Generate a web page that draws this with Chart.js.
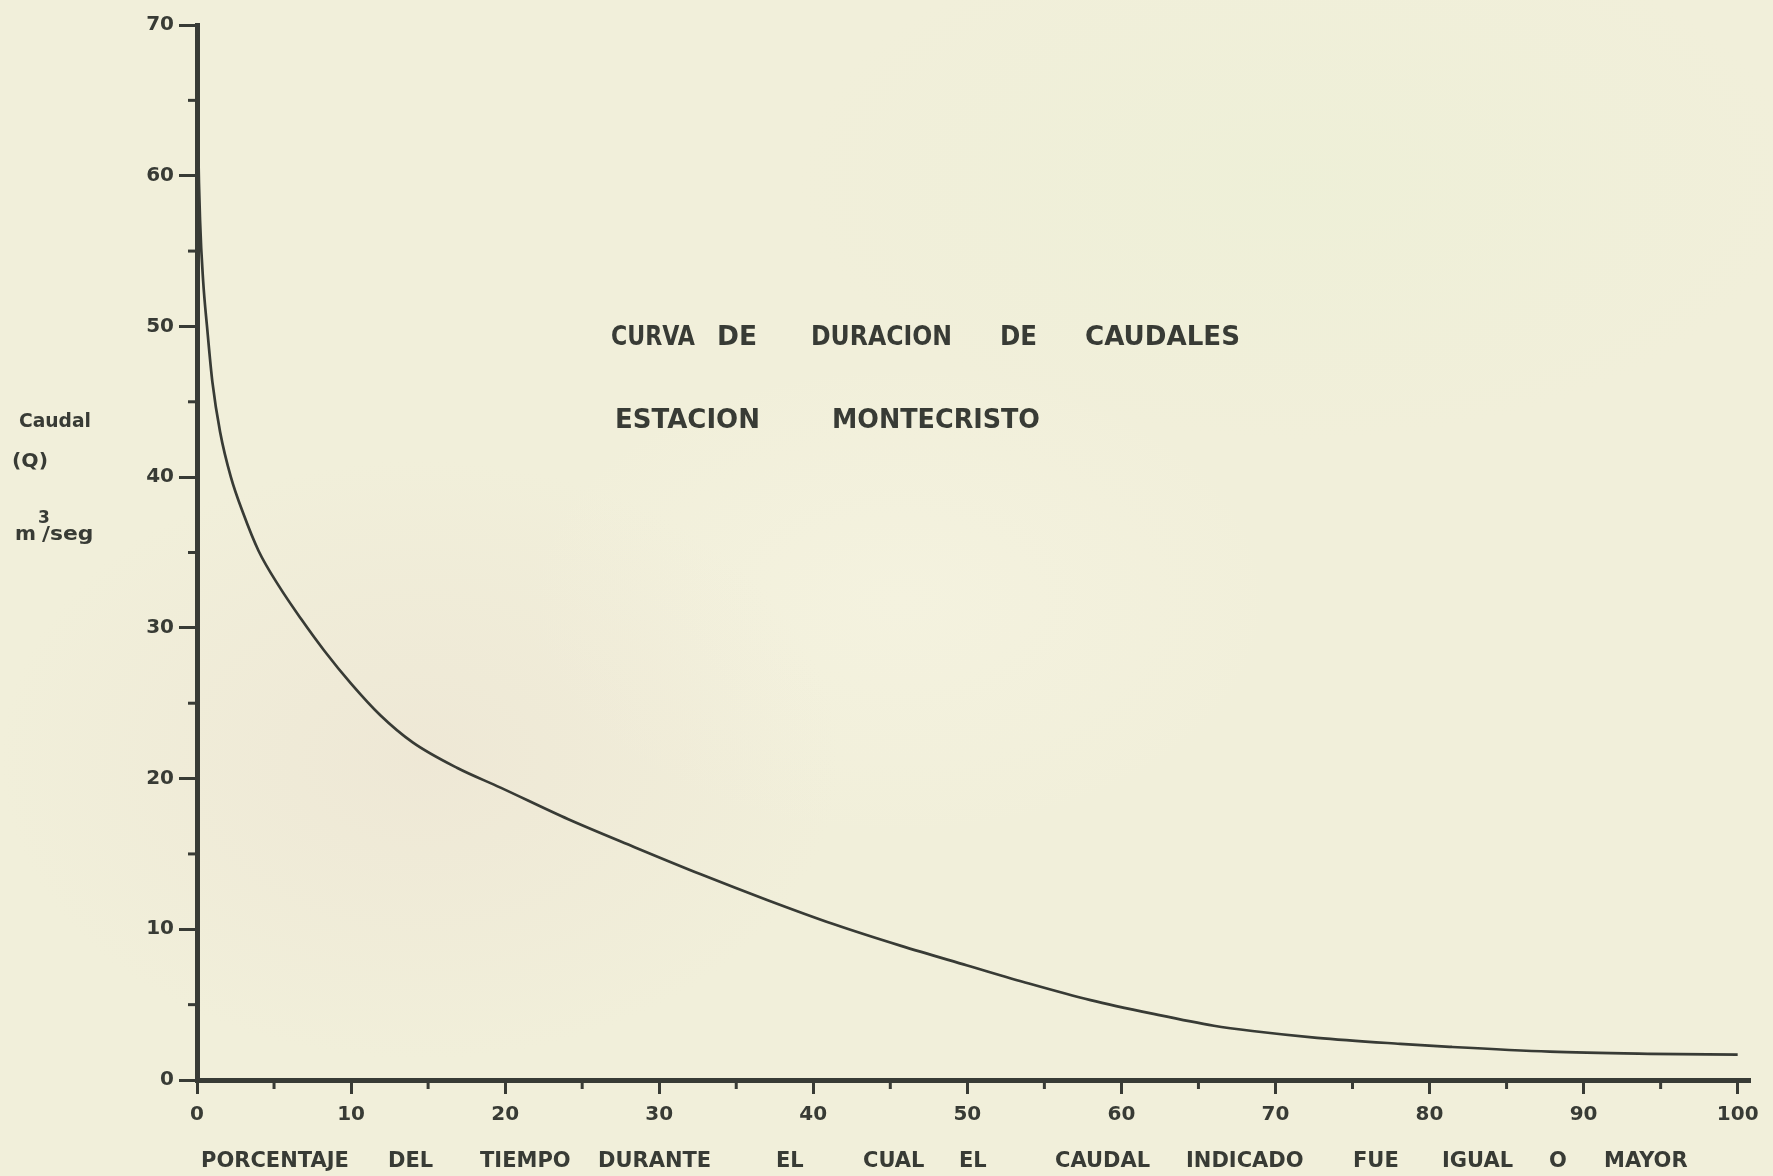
<!DOCTYPE html>
<html lang="es">
<head>
<meta charset="utf-8">
<title>Curva de duración de caudales — Estación Montecristo</title>
<script src="https://cdn.jsdelivr.net/npm/chart.js@4.4.1/dist/chart.umd.min.js"></script>
<style>
  html, body { margin: 0; padding: 0; }
  body {
    background:
      radial-gradient(ellipse 420px 300px at 420px 760px, rgba(236, 226, 210, 0.55), rgba(236, 226, 210, 0) 100%),
      radial-gradient(ellipse 500px 260px at 1300px 180px, rgba(236, 240, 214, 0.6), rgba(236, 240, 214, 0) 100%),
      radial-gradient(ellipse 380px 240px at 900px 600px, rgba(246, 244, 226, 0.6), rgba(246, 244, 226, 0) 100%),
      #f1efda;
  }
  #wrap { position: relative; width: 1773px; height: 1176px; }
  canvas { display: block; }
</style>
</head>
<body>
<div id="wrap"><canvas id="chart" width="1773" height="1176"></canvas></div>
<script>
// Porcentaje del tiempo (%) en que el caudal fue igualado o superado
const pctTiempo = [0, 0.08, 0.2, 0.4, 0.65, 1.0, 1.5, 2.2, 3.0, 4.0, 5.3, 6.75, 8.25, 10, 11.9, 14.0, 16.9,
  19.7, 24.1, 28.4, 32.7, 37, 41.3, 45.7, 50, 54, 58, 62, 66, 68.5, 72.7, 78.1, 81.3, 87.8, 94.3, 100];
// Caudal Q (m3/seg)
const caudalQ = [69.3, 62, 57, 53, 50, 46.3, 43.0, 40.0, 37.6, 35.1, 32.8, 30.6, 28.5, 26.3, 24.2, 22.4, 20.7,
  19.4, 17.3, 15.45, 13.65, 11.95, 10.35, 8.9, 7.6, 6.4, 5.3, 4.4, 3.6, 3.25, 2.8, 2.4, 2.2, 1.88, 1.74, 1.68];

// Valores de las marcas de los ejes
const xTickValues = [0, 10, 20, 30, 40, 50, 60, 70, 80, 90, 100];
const yTickValues = [0, 10, 20, 30, 40, 50, 60, 70];
const xMinorTicks = [5, 15, 25, 35, 45, 55, 65, 75, 85, 95];
const yMinorTicks = [5, 15, 25, 35, 45, 55, 65];

// Rótulos
const tituloLinea1 = ['CURVA', 'DE', 'DURACION', 'DE', 'CAUDALES'];
const tituloLinea2 = ['ESTACION', 'MONTECRISTO'];
const tituloEjeX = ['PORCENTAJE', 'DEL', 'TIEMPO', 'DURANTE', 'EL', 'CUAL', 'EL', 'CAUDAL', 'INDICADO', 'FUE', 'IGUAL', 'O', 'MAYOR'];

const INK = '#383b35';
const FONT = '"DejaVu Sans", "Liberation Sans", sans-serif';

// Marcas secundarias (cada 5 unidades) sobre ambos ejes
const minorTicksPlugin = {
  id: 'minorTicks',
  afterDraw(chart) {
    const { ctx, scales: { x, y } } = chart;
    ctx.save();
    ctx.strokeStyle = INK;
    ctx.lineWidth = 3;
    for (const v of yMinorTicks) {
      const py = y.getPixelForValue(v);
      ctx.beginPath();
      ctx.moveTo(x.left - 9, py);
      ctx.lineTo(x.left, py);
      ctx.stroke();
    }
    for (const v of xMinorTicks) {
      const px = x.getPixelForValue(v);
      ctx.beginPath();
      ctx.moveTo(px, y.bottom);
      ctx.lineTo(px, y.bottom + 9);
      ctx.stroke();
    }
    ctx.restore();
  }
};

// Escribe una palabra ajustada al ancho [x0, x1] (rotulado tipo Leroy)
function fitWord(ctx, word, x0, x1, yc) {
  const w = ctx.measureText(word).width;
  const sx = Math.max(0.8, Math.min(1.15, (x1 - x0) / w));
  ctx.save();
  ctx.translate(x0, yc);
  ctx.scale(sx, 1);
  ctx.fillText(word, 0, 0);
  ctx.restore();
}

// Rotulación: título, leyenda del eje X y unidades del eje Y
const lettering = {
  id: 'lettering',
  afterDraw(chart) {
    const { ctx } = chart;
    ctx.save();
    ctx.fillStyle = INK;
    ctx.textBaseline = 'middle';
    ctx.textAlign = 'left';

    ctx.font = `bold 26px ${FONT}`;
    const t1 = [[611, 695], [717, 757], [811, 952], [1000, 1037], [1085, 1240]];
    tituloLinea1.forEach((w, i) => fitWord(ctx, w, t1[i][0], t1[i][1], 338));
    const t2 = [[615, 760], [832, 1040]];
    tituloLinea2.forEach((w, i) => fitWord(ctx, w, t2[i][0], t2[i][1], 421));

    // Leyenda del eje X: palabras espaciadas a lo largo del eje
    ctx.font = `bold 21px ${FONT}`;
    const bx = [201, 388, 480, 598, 776, 863, 959, 1055, 1186, 1353, 1442, 1549, 1604];
    tituloEjeX.forEach((w, i) => ctx.fillText(w, bx[i], 1162));

    ctx.font = `bold 19px ${FONT}`;
    fitWord(ctx, 'Caudal', 19, 91, 422);
    fitWord(ctx, '(Q)', 12, 48, 462);
    fitWord(ctx, 'm', 15, 36, 535);
    fitWord(ctx, '/seg', 42, 94, 535);
    ctx.font = `bold 17px ${FONT}`;
    ctx.fillText('3', 38, 519);
    ctx.restore();
  }
};

const puntos = pctTiempo.map((p, i) => ({ x: p, y: caudalQ[i] }));

new Chart(document.getElementById('chart'), {
  type: 'line',
  data: {
    datasets: [{
      label: 'Caudal',
      data: puntos,
      borderColor: INK,
      borderWidth: 2.7,
      pointRadius: 0,
      fill: false,
      cubicInterpolationMode: 'monotone',
      clip: false
    }]
  },
  options: {
    responsive: false,
    animation: false,
    events: [],
    layout: { padding: { left: 0, top: 25, right: 23, bottom: 0 } },
    plugins: { legend: { display: false }, tooltip: { enabled: false } },
    scales: {
      x: {
        type: 'linear',
        min: 0,
        max: 100.8,
        afterBuildTicks(scale) {
          scale.ticks = xTickValues.map(v => ({ value: v }));
        },
        afterFit(scale) { scale.height = 96; },
        ticks: {
          color: INK,
          font: { family: FONT, size: 20, weight: 'bold' },
          padding: 9,
          maxRotation: 0,
          autoSkip: false,
          callback: v => String(v)
        },
        grid: { display: true, drawOnChartArea: false, drawTicks: true, tickLength: 14, tickWidth: 3, tickColor: INK },
        border: { display: true, width: 5, color: INK }
      },
      y: {
        min: 0,
        max: 70,
        afterBuildTicks(scale) {
          scale.ticks = yTickValues.map(v => ({ value: v }));
        },
        afterFit(scale) { scale.width = 197; },
        ticks: {
          color: INK,
          font: { family: FONT, size: 20, weight: 'bold' },
          padding: 5,
          autoSkip: false,
          callback: v => String(v)
        },
        grid: { display: true, drawOnChartArea: false, drawTicks: true, tickLength: 18, tickWidth: 3, tickColor: INK },
        border: { display: true, width: 5, color: INK }
      }
    }
  },
  plugins: [minorTicksPlugin, lettering]
});
</script>
</body>
</html>
